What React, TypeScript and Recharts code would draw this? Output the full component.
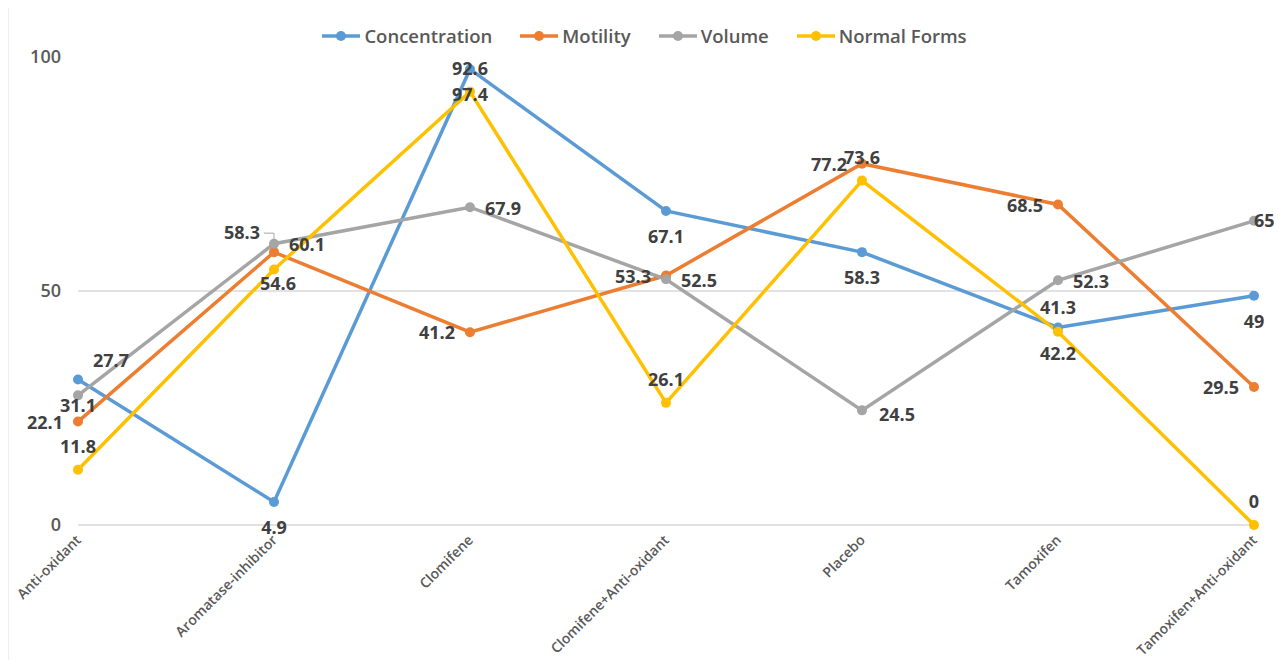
import { LineChart, Line, XAxis, YAxis, ReferenceLine } from "recharts";

const categories = [
  "Anti-oxidant",
  "Aromatase-inhibitor",
  "Clomifene",
  "Clomifene+Anti-oxidant",
  "Placebo",
  "Tamoxifen",
  "Tamoxifen+Anti-oxidant",
];

const concentration = [31.1, 4.9, 97.4, 67.1, 58.3, 42.2, 49];
const motility = [22.1, 58.3, 41.2, 53.3, 77.2, 68.5, 29.5];
const volume = [27.7, 60.1, 67.9, 52.5, 24.5, 52.3, 65];
const normalForms = [11.8, 54.6, 92.6, 26.1, 73.6, 41.3, 0];

const yTicks = [0, 50, 100];

const FONT = "'Open Sans', 'DejaVu Sans', sans-serif";
const LABEL_COLOR = "#404040";
const AXIS_COLOR = "#595959";

type Place = "below" | "left" | "right" | "above";

interface LabelTweak {
  dx: number;
  dy: number;
  anchor: "start" | "middle" | "end";
  leader?: boolean;
}

const placeDefaults: Record<Place, LabelTweak> = {
  below: { dx: 0, dy: 26, anchor: "middle" },
  left: { dx: -15, dy: 1, anchor: "end" },
  right: { dx: 15, dy: 1, anchor: "start" },
  above: { dx: 0, dy: -23, anchor: "middle" },
};

interface SeriesDef {
  key: string;
  name: string;
  color: string;
  values: number[];
  place: Place;
  tweaks?: Record<number, LabelTweak>;
}

const series: SeriesDef[] = [
  { key: "concentration", name: "Concentration", color: "#5B9BD5", values: concentration, place: "below" },
  {
    key: "motility",
    name: "Motility",
    color: "#ED7D31",
    values: motility,
    place: "left",
    tweaks: { 1: { dx: -14, dy: -19, anchor: "end", leader: true } },
  },
  {
    key: "volume",
    name: "Volume",
    color: "#A5A5A5",
    values: volume,
    place: "right",
    tweaks: {
      0: { dx: 15, dy: -35, anchor: "start" },
      4: { dx: 17, dy: 4, anchor: "start" },
      6: { dx: 0, dy: 0, anchor: "start" },
    },
  },
  {
    key: "normalForms",
    name: "Normal Forms",
    color: "#FFC000",
    values: normalForms,
    place: "above",
    tweaks: {
      1: { dx: 4, dy: 14, anchor: "middle" },
      5: { dx: 0, dy: -24, anchor: "middle" },
    },
  },
];

const data = categories.map((name, i) => {
  const row: Record<string, string | number> = { name };
  series.forEach((s) => {
    row[s.key] = s.values[i];
  });
  return row;
});

function makeLabel(s: SeriesDef) {
  return (props: any) => {
    const { x, y, value, index } = props;
    if (x == null || y == null) return null;
    const t = (s.tweaks && s.tweaks[index]) || placeDefaults[s.place];
    return (
      <g key={`${s.key}-lbl-${index}`}>
        {t.leader && (
          <path
            d={`M${x - 10},${y + t.dy} H${x} V${y - 9}`}
            fill="none"
            stroke="#a6a6a6"
            strokeWidth={1}
          />
        )}
        <text
          x={x + t.dx}
          y={y + t.dy}
          dy="0.35em"
          textAnchor={t.anchor}
          fill={LABEL_COLOR}
          fontFamily={FONT}
          fontWeight={700}
          fontSize={18}
        >
          {value}
        </text>
      </g>
    );
  };
}

function CategoryTick(props: any) {
  const { x, y, payload } = props;
  return (
    <g transform={`translate(${x + 4},${y + 8})`}>
      <text
        x={0}
        y={0}
        textAnchor="end"
        transform="rotate(-45)"
        fill={AXIS_COLOR}
        fontFamily={FONT}
        fontWeight={600}
        fontSize={14}
      >
        {payload.value}
      </text>
    </g>
  );
}

function ValueTick(props: any) {
  const { y, payload } = props;
  return (
    <text
      x={52}
      y={y}
      dy="0.35em"
      textAnchor="end"
      fill={AXIS_COLOR}
      fontFamily={FONT}
      fontWeight={600}
      fontSize={18}
    >
      {payload.value}
    </text>
  );
}

function LegendRow() {
  return (
    <div
      style={{
        position: "absolute",
        top: 16,
        left: 0,
        width: 1273,
        display: "flex",
        justifyContent: "center",
        gap: 28,
        fontFamily: FONT,
        fontWeight: 600,
        fontSize: 18.5,
        color: AXIS_COLOR,
        lineHeight: "24px",
      }}
    >
      {series.map((s) => (
        <div key={s.key} style={{ display: "flex", alignItems: "center" }}>
          <svg width={40} height={12} style={{ marginRight: 2 }}>
            <line x1={0} y1={6} x2={38} y2={6} stroke={s.color} strokeWidth={3.5} />
            <circle cx={19} cy={6} r={5} fill={s.color} />
          </svg>
          <span>{s.name}</span>
        </div>
      ))}
    </div>
  );
}

export default function App() {
  return (
    <div
      style={{
        position: "relative",
        width: 1274,
        height: 652,
        background: "#fff",
      }}
    >
      {/* faint chart frame on both sides */}
      <div style={{ position: "absolute", left: 0, top: 0, width: 1, height: 652, background: "#eeeeee" }} />
      <div style={{ position: "absolute", left: 1273, top: 0, width: 1, height: 652, background: "#eeeeee" }} />
      <div style={{ position: "absolute", left: 1, top: 0 }}>
        <LineChart
          width={1272}
          height={652}
          data={data}
          margin={{ top: 49, right: 27, bottom: 3, left: 0 }}
          style={{ overflow: "visible" }}
        >
          <XAxis
            dataKey="name"
            interval={0}
            axisLine={false}
            tickLine={false}
            height={132}
            tick={<CategoryTick />}
          />
          <YAxis
            domain={[0, 100]}
            ticks={yTicks}
            axisLine={false}
            tickLine={false}
            width={69}
            tick={<ValueTick />}
          />
          <ReferenceLine y={0} stroke="#d9d9d9" strokeWidth={1.5} />
          <ReferenceLine y={50} stroke="#d9d9d9" strokeWidth={1.5} />
          {series.map((s) => (
            <Line
              key={s.key}
              type="linear"
              dataKey={s.key}
              name={s.name}
              stroke={s.color}
              strokeWidth={3.5}
              dot={{ r: 5, fill: s.color, stroke: s.color, strokeWidth: 0 }}
              activeDot={false}
              label={makeLabel(s)}
              isAnimationActive={false}
            />
          ))}
        </LineChart>
      </div>
      <LegendRow />
    </div>
  );
}
